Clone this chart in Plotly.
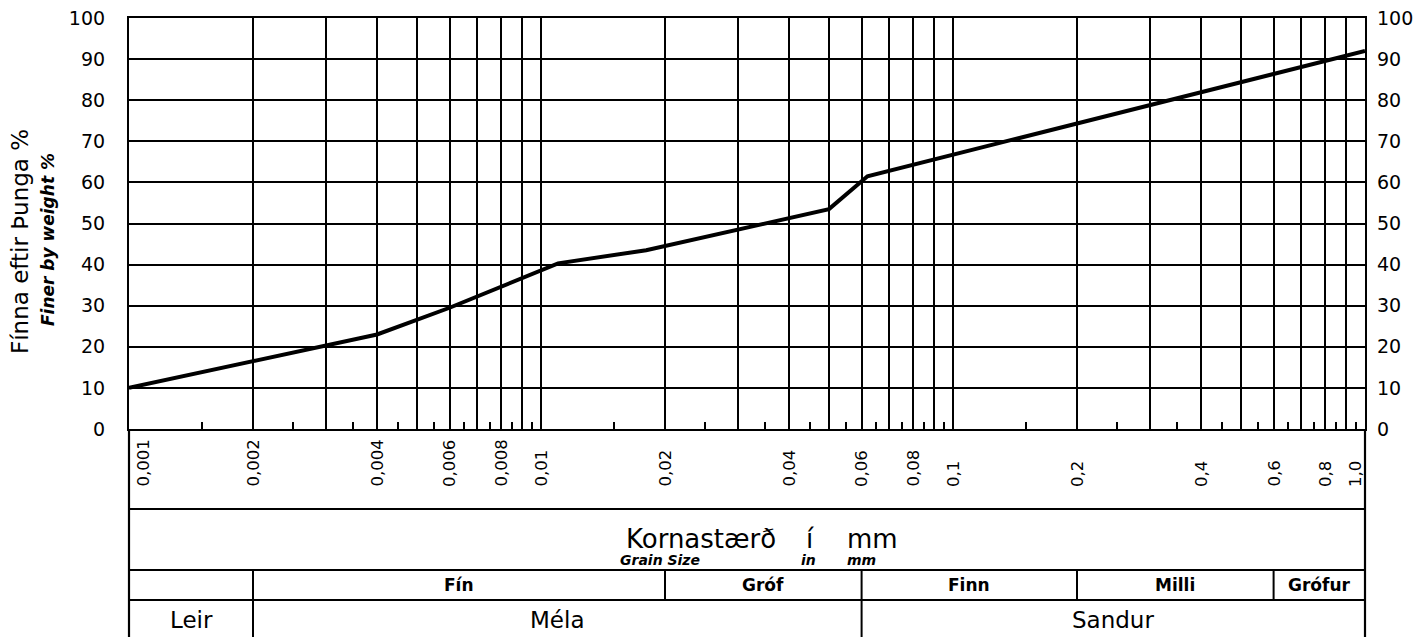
import math
import plotly.graph_objects as go

# ---------------- data ----------------
grain_mm = [0.001, 0.004, 0.006, 0.011, 0.018, 0.05, 0.062, 1.0]
finer_pct = [10, 23, 29.5, 40.3, 43.5, 53.5, 61.5, 92]

label_vals = [0.001, 0.002, 0.004, 0.006, 0.008, 0.01, 0.02, 0.04, 0.06, 0.08,
              0.1, 0.2, 0.4, 0.6, 0.8, 1.0]
label_text = ["0,001", "0,002", "0,004", "0,006", "0,008", "0,01", "0,02", "0,04",
              "0,06", "0,08", "0,1", "0,2", "0,4", "0,6", "0,8", "1,0"]
unlabelled_grid = [0.003, 0.005, 0.007, 0.009, 0.03, 0.05, 0.07, 0.09,
                   0.3, 0.5, 0.7, 0.9]
half_mults = [1.5, 2.5, 3.5, 4.5, 5.5, 6.5, 7.5, 8.5, 9.5]
decades = [0.001, 0.01, 0.1]
y_ticks = [0, 10, 20, 30, 40, 50, 60, 70, 80, 90, 100]

row2_edges = [0.001, 0.002, 0.02, 0.06, 0.2, 0.6, 1.0]
row2_labels = ["", "Fín", "Gróf", "Finn", "Milli", "Grófur"]
row3_edges = [0.001, 0.002, 0.06, 1.0]
row3_labels = ["Leir", "Méla", "Sandur"]

title_words = ["Kornastærð", "í", "mm"]
subtitle_words = ["Grain Size", "in", "mm"]

X_RANGE = [-3, 0]  # log10 of 0.001 .. 1.0

# ---------------- layout geometry ----------------
W, H = 1416, 637
ML, MR, MT, MB = 129, 51, 18, 208
PH = H - MT - MB
PW = W - ML - MR


def py(px):
    """pixel row -> paper y"""
    return (H - MB - px) / PH


def pxx(px):
    return (px - ML) / PW


def logpaper(v):
    """grain size -> paper x through the log axis range"""
    return (math.log10(v) - X_RANGE[0]) / (X_RANGE[1] - X_RANGE[0])


FONT = "DejaVu Sans"
BLACK = "#000000"
GW = 1.8

fig = go.Figure()
fig.add_trace(go.Scatter(x=grain_mm, y=finer_pct, mode="lines",
                         line=dict(color=BLACK, width=4),
                         showlegend=False, hoverinfo="skip"))
# helper traces so overlay axes are rendered
fig.add_trace(go.Scatter(x=grain_mm, y=finer_pct, xaxis="x2", yaxis="y",
                         mode="lines", opacity=0, line=dict(width=0),
                         showlegend=False, hoverinfo="skip"))
fig.add_trace(go.Scatter(x=grain_mm, y=finer_pct, xaxis="x", yaxis="y2",
                         mode="lines", opacity=0, line=dict(width=0),
                         showlegend=False, hoverinfo="skip"))

half_ticks = [m * d for d in decades for m in half_mults]

fig.update_layout(
    width=W, height=H,
    margin=dict(l=ML, r=MR, t=MT, b=MB, pad=0, autoexpand=False),
    paper_bgcolor="white", plot_bgcolor="white",
    showlegend=False,
    xaxis=dict(type="log", range=X_RANGE, tickvals=label_vals,
               showticklabels=False, ticks="", showgrid=True,
               gridcolor=BLACK, gridwidth=GW, automargin=False,
               minor=dict(tickvals=unlabelled_grid, showgrid=True,
                          gridcolor=BLACK, gridwidth=GW, ticks=""),
               showline=True, linecolor=BLACK, linewidth=2.2, mirror=True,
               zeroline=False, fixedrange=True),
    xaxis2=dict(type="log", range=X_RANGE, overlaying="x", anchor="y",
                side="bottom", tickvals=half_ticks, ticks="inside",
                ticklen=7, tickwidth=1.8, tickcolor=BLACK, automargin=False,
                showticklabels=False, showgrid=False, showline=False,
                zeroline=False),
    yaxis=dict(range=[0, 100], tickvals=y_ticks, ticks="",
               showgrid=True, gridcolor=BLACK, gridwidth=GW, automargin=False,
               showline=True, linecolor=BLACK, linewidth=2.2, mirror=True,
               zeroline=False, ticklabelstandoff=18,
               tickfont=dict(family=FONT, size=19, color=BLACK)),
    yaxis2=dict(range=[0, 100], tickvals=y_ticks, ticks="", overlaying="y",
                side="right", anchor="x", showgrid=False, zeroline=False,
                showline=False, ticklabelstandoff=11, automargin=False,
                tickfont=dict(family=FONT, size=19, color=BLACK)),
)

shapes = []
# long outer borders down through the table
for xp in (0, 1):
    shapes.append(dict(type="line", xref="paper", yref="paper",
                       x0=xp, x1=xp, y0=py(H + 5), y1=0,
                       line=dict(color=BLACK, width=2.2)))
# table horizontal lines
for rowpx in (509, 570, 600):
    shapes.append(dict(type="line", xref="paper", yref="paper",
                       x0=0, x1=1, y0=py(rowpx), y1=py(rowpx),
                       line=dict(color=BLACK, width=2)))
# row 2 / row 3 dividers
for b in row2_edges[1:-1]:
    bottom = py(H + 5) if b in row3_edges else py(600)
    xp = logpaper(b)
    shapes.append(dict(type="line", xref="paper", yref="paper",
                       x0=xp, x1=xp, y0=bottom, y1=py(570),
                       line=dict(color=BLACK, width=2)))
fig.update_layout(shapes=shapes)

ann = []
# x tick labels (rotated, bottom aligned)
for v, t in zip(label_vals, label_text):
    shift = 0
    if v == label_vals[0]:
        shift = 14
    elif v == label_vals[-1]:
        shift = -10
    ann.append(dict(x=math.log10(v), xref="x", y=py(489), yref="paper",
                    text=t, textangle=-90, showarrow=False,
                    xanchor="center", yanchor="bottom", xshift=shift,
                    font=dict(family=FONT, size=16.5, color=BLACK)))

# row 2 labels
for i, lab in enumerate(row2_labels):
    if not lab:
        continue
    xm = (logpaper(row2_edges[i]) + logpaper(row2_edges[i + 1])) / 2
    ann.append(dict(x=xm, xref="paper", y=py(585), yref="paper", text=lab,
                    showarrow=False, xanchor="center", yanchor="middle",
                    font=dict(family=FONT, size=17, color=BLACK, weight="bold")))
# row 3 labels
for i, lab in enumerate(row3_labels):
    xm = (logpaper(row3_edges[i]) + logpaper(row3_edges[i + 1])) / 2
    ann.append(dict(x=xm, xref="paper", y=py(620), yref="paper", text=lab,
                    showarrow=False, xanchor="center", yanchor="middle",
                    font=dict(family=FONT, size=23, color=BLACK)))

# axis title box (words placed like the hand-lettered original)
for word, cx in zip(title_words, (701, 810, 872)):
    ann.append(dict(x=pxx(cx), xref="paper", y=py(539), yref="paper",
                    text=word, showarrow=False, xanchor="center",
                    yanchor="middle",
                    font=dict(family=FONT, size=26, color=BLACK)))
for word, cx in zip(subtitle_words, (660, 808, 861)):
    ann.append(dict(x=pxx(cx), xref="paper", y=py(560), yref="paper",
                    text="<i>" + word + "</i>", showarrow=False,
                    xanchor="center", yanchor="middle",
                    font=dict(family=FONT, size=14, color=BLACK, weight="bold")))

# y axis titles
ann.append(dict(x=pxx(20), xref="paper", y=py(242), yref="paper",
                text="Fínna eftir Þunga %", textangle=-90, showarrow=False,
                xanchor="center", yanchor="middle",
                font=dict(family=FONT, size=23, color=BLACK)))
ann.append(dict(x=pxx(48), xref="paper", y=py(240), yref="paper",
                text="<i>Finer by weight %</i>", textangle=-90, showarrow=False,
                xanchor="center", yanchor="middle",
                font=dict(family=FONT, size=17, color=BLACK, weight="bold")))

fig.update_layout(annotations=ann)

fig.write_html("out.html",
               config={"displayModeBar": False},
               post_script="document.body.style.margin='0';"
                           "document.body.style.padding='0';")
